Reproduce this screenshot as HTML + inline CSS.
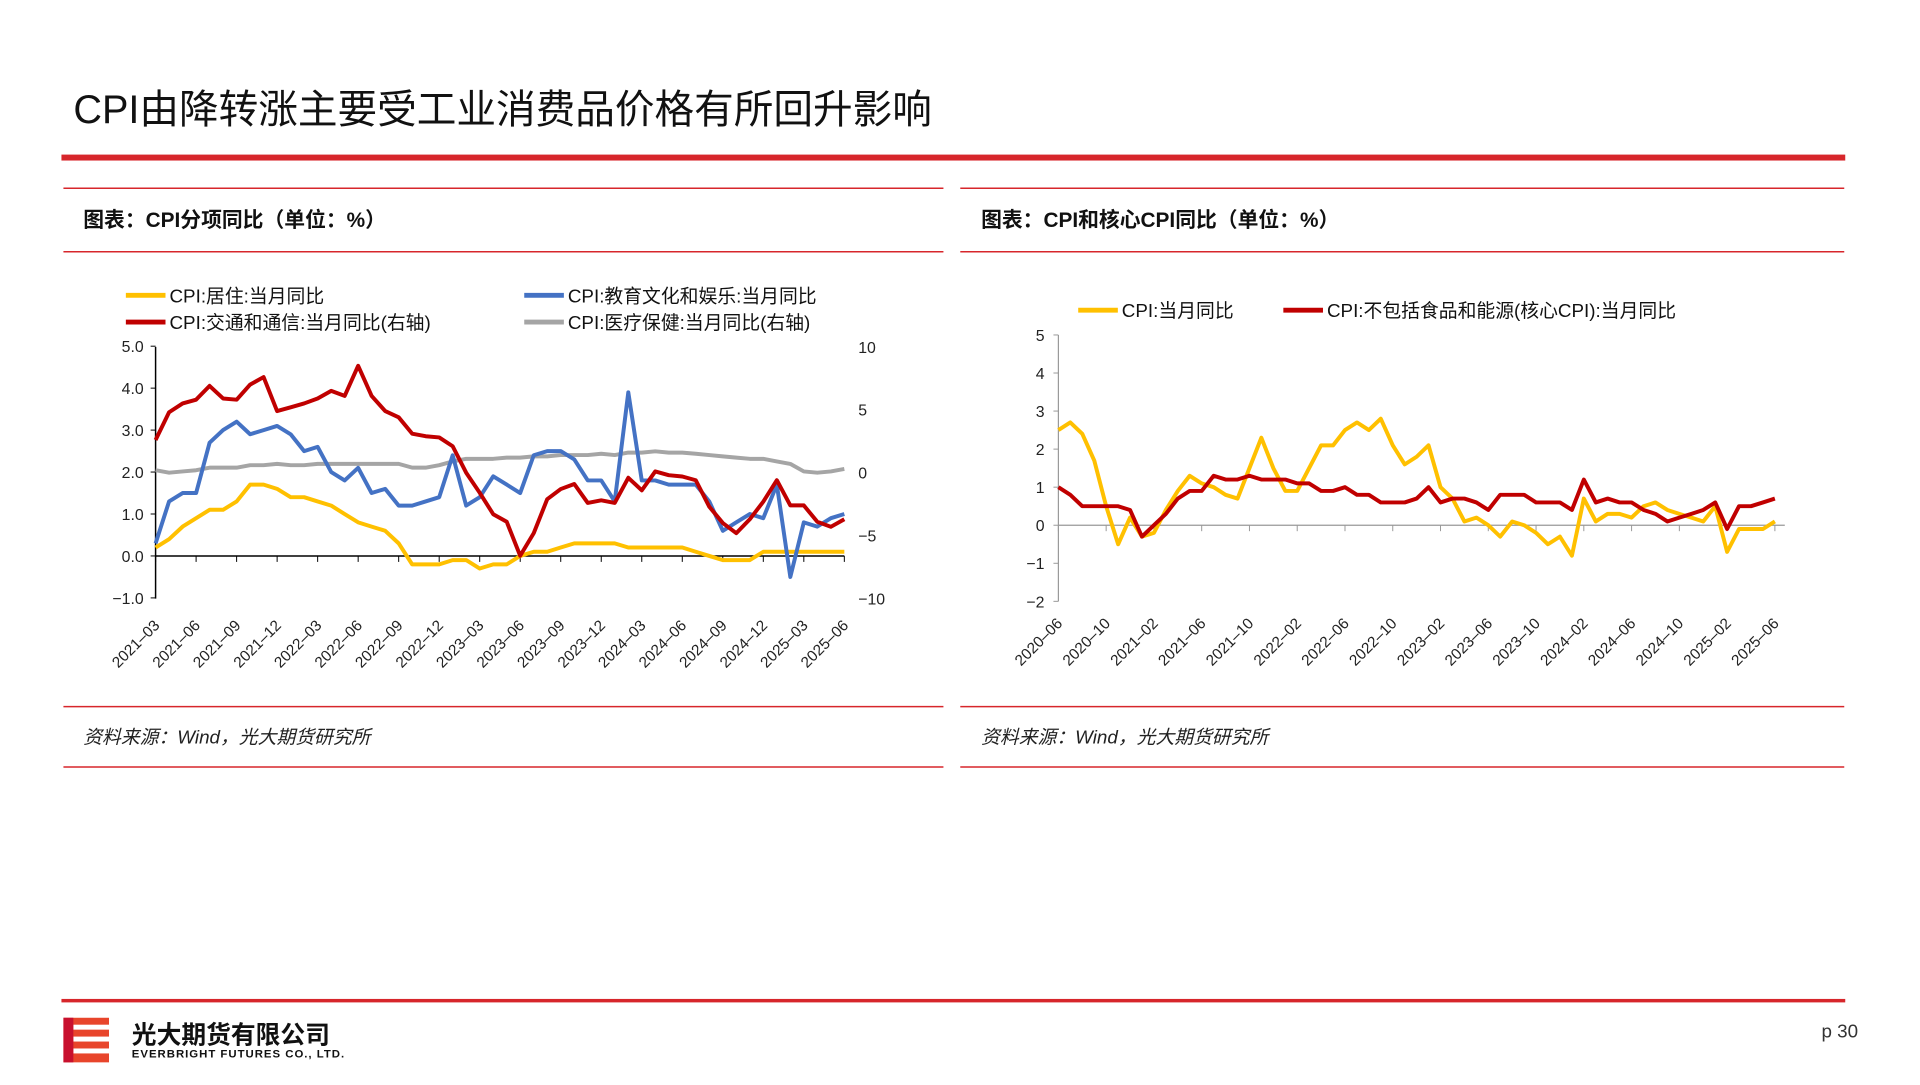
<!DOCTYPE html>
<html><head><meta charset="utf-8">
<style>
html,body{margin:0;padding:0;background:#fff;}
body{width:1920px;height:1080px;overflow:hidden;font-family:"Liberation Sans","Noto Sans CJK SC",sans-serif;}
svg text{font-family:"Liberation Sans","Noto Sans CJK SC",sans-serif;}
</style></head>
<body>
<svg id="page" width="1920" height="1080" viewBox="0 0 1920 1080" xmlns="http://www.w3.org/2000/svg">
<g transform="scale(0.991)">
  <text x="74" y="124" font-size="40" fill="#111">CPI由降转涨主要受工业消费品价格有所回升影响</text>
  <rect x="62" y="156" width="1800" height="6" fill="#D7262B"/>

  <g>
    <line x1="64" y1="190" x2="952" y2="190" stroke="#D7262B" stroke-width="1.5"/>
    <text x="84" y="229" font-size="21" font-weight="bold" fill="#111">图表：CPI分项同比（单位：%）</text>
    <line x1="64" y1="254" x2="952" y2="254" stroke="#D7262B" stroke-width="1.5"/>
    <line x1="64" y1="713" x2="952" y2="713" stroke="#D7262B" stroke-width="1.5"/>
    <text x="84" y="750" font-size="19" font-style="italic" fill="#222">资料来源：Wind，光大期货研究所</text>
    <line x1="64" y1="774" x2="952" y2="774" stroke="#D7262B" stroke-width="1.5"/>
    <g id="leftChart"></g>
  </g>

  <g>
    <line x1="969" y1="190" x2="1861" y2="190" stroke="#D7262B" stroke-width="1.5"/>
    <text x="990" y="229" font-size="21" font-weight="bold" fill="#111">图表：CPI和核心CPI同比（单位：%）</text>
    <line x1="969" y1="254" x2="1861" y2="254" stroke="#D7262B" stroke-width="1.5"/>
    <line x1="969" y1="713" x2="1861" y2="713" stroke="#D7262B" stroke-width="1.5"/>
    <text x="990" y="750" font-size="19" font-style="italic" fill="#222">资料来源：Wind，光大期货研究所</text>
    <line x1="969" y1="774" x2="1861" y2="774" stroke="#D7262B" stroke-width="1.5"/>
    <g id="rightChart"></g>
  </g>

  <rect x="62" y="1008" width="1800" height="3.5" fill="#D7262B"/>
  <g>
    <rect x="64" y="1027" width="46" height="45" fill="#E8452B"/>
    <rect x="74" y="1034" width="36" height="5" fill="#fff"/>
    <rect x="74" y="1046" width="36" height="5" fill="#fff"/>
    <rect x="74" y="1058" width="36" height="5" fill="#fff"/>
    <rect x="64" y="1027" width="10" height="45" fill="#C8102E"/>
  </g>
  <text x="133" y="1053" font-size="25" font-weight="bold" fill="#111">光大期货有限公司</text>
  <text x="133" y="1067" font-size="11.5" font-weight="bold" fill="#111" letter-spacing="1">EVERBRIGHT FUTURES CO., LTD.</text>
  <text x="1838" y="1047" font-size="19" fill="#333">p 30</text>
</g>
</svg>

<script>
// ---- Left chart data (2021-03 .. 2025-06) ----
const leftStart = [2021, 3];
const housing = [0.2,0.4,0.7,0.9,1.1,1.1,1.3,1.7,1.7,1.6, 1.4,1.4,1.3,1.2,1.0,0.8,0.7,0.6,0.3,-0.2,-0.2,-0.2, -0.1,-0.1,-0.3,-0.2,-0.2,0.0,0.1,0.1,0.2,0.3,0.3,0.3, 0.3,0.2,0.2,0.2,0.2,0.2,0.1,0.0,-0.1,-0.1,-0.1,0.1, 0.1,0.1,0.1,0.1,0.1,0.1];
const education = [0.3,1.3,1.5,1.5,2.7,3.0,3.2,2.9,3.0,3.1, 2.9,2.5,2.6,2.0,1.8,2.1,1.5,1.6,1.2,1.2,1.3,1.4, 2.4,1.2,1.4,1.9,1.7,1.5,2.4,2.5,2.5,2.3,1.8,1.8, 1.3,3.9,1.8,1.8,1.7,1.7,1.7,1.3,0.6,0.8,1.0,0.9, 1.7,-0.5,0.8,0.7,0.9,1.0];
const transport = [2.6,4.8,5.5,5.8,6.9,5.9,5.8,7.0,7.6,4.9, 5.2,5.5,5.9,6.5,6.1,8.5,6.1,4.9,4.4,3.1,2.9,2.8, 2.1,0.0,-1.6,-3.3,-3.9,-6.6,-4.8,-2.1,-1.3,-0.9,-2.4,-2.2, -2.4,-0.4,-1.4,0.1,-0.2,-0.3,-0.6,-2.7,-4.0,-4.8,-3.7,-2.3, -0.6,-2.6,-2.6,-3.9,-4.3,-3.7];
const health = [0.2,0.0,0.1,0.2,0.4,0.4,0.4,0.6,0.6,0.7, 0.6,0.6,0.7,0.7,0.7,0.7,0.7,0.7,0.7,0.4,0.4,0.6, 0.9,1.1,1.1,1.1,1.2,1.2,1.3,1.3,1.4,1.4,1.4,1.5, 1.4,1.6,1.6,1.7,1.6,1.6,1.5,1.4,1.3,1.2,1.1,1.1, 0.9,0.7,0.1,0.0,0.1,0.3];
const leftTicks = [-1.0,0.0,1.0,2.0,3.0,4.0,5.0];
const rightTicks = [-10,-5,0,5,10];

// ---- Right chart data (2020-06 .. 2025-06) ----
const rightStart = [2020, 6];
const cpi = [2.5,2.7,2.4,1.7,0.5,-0.5,0.2, -0.3,-0.2,0.4,0.9,1.3,1.1,1.0,0.8,0.7,1.5,2.3,1.5, 0.9,0.9,1.5,2.1,2.1,2.5,2.7,2.5,2.8,2.1,1.6,1.8, 2.1,1.0,0.7,0.1,0.2,0.0,-0.3,0.1,0.0,-0.2,-0.5,-0.3, -0.8,0.7,0.1,0.3,0.3,0.2,0.5,0.6,0.4,0.3,0.2,0.1, 0.5,-0.7,-0.1,-0.1,-0.1,0.1];
const coreCpi = [1.0,0.8,0.5,0.5,0.5,0.5,0.4, -0.3,0.0,0.3,0.7,0.9,0.9,1.3,1.2,1.2,1.3,1.2,1.2, 1.2,1.1,1.1,0.9,0.9,1.0,0.8,0.8,0.6,0.6,0.6,0.7, 1.0,0.6,0.7,0.7,0.6,0.4,0.8,0.8,0.8,0.6,0.6,0.6, 0.4,1.2,0.6,0.7,0.6,0.6,0.4,0.3,0.1,0.2,0.3,0.4, 0.6,-0.1,0.5,0.5,0.6,0.7];
const coreTicks = [-2,-1,0,1,2,3,4,5];

const NS = 'http://www.w3.org/2000/svg';
function mk(parent, tag, attrs){const e=document.createElementNS(NS,tag);for(const k in attrs)e.setAttribute(k,attrs[k]);parent.appendChild(e);return e;}
function monthLabel(start,i){let y=start[0],m=start[1]-1+i;y+=Math.floor(m/12);m=m%12+1;return y+'-'+(m<10?'0':'')+m;}
function pathD(vals,xf,yf){return vals.map((v,i)=>(i?'L':'M')+xf(i).toFixed(1)+','+yf(v).toFixed(1)).join(' ');}

// ===== Left chart =====
(function(){
  const g=document.getElementById('leftChart');
  const x0=157,x1=852,n=housing.length;
  const xL=i=>x0+(x1-x0)*i/(n-1);
  const yL=v=>561-(v-0)*(604-350)/6;
  const yR=v=>477-v*(254/20);
  let a=mk(g,'line',{x1:x0,y1:350,x2:x0,y2:604,stroke:'#000','stroke-width':1.5});
  
  
  leftTicks.forEach(t=>{
    mk(g,'line',{x1:x0-5,y1:yL(t),x2:x0,y2:yL(t),stroke:'#000','stroke-width':1});
    const tx=mk(g,'text',{x:x0-12,y:yL(t)+6,'font-size':16,'text-anchor':'end',fill:'#222'});
    tx.textContent=t.toFixed(1).replace('-','−');
    
    
  });
  rightTicks.forEach(t=>{
    const tx=mk(g,'text',{x:866,y:yR(t)+6,'font-size':16,'text-anchor':'start',fill:'#222'});
    tx.textContent=String(t).replace('-','−');
    
    
  });
  const ax=mk(g,'line',{x1:x0,y1:yL(0),x2:x1,y2:yL(0),stroke:'#000','stroke-width':1.5});
  
  
  for(let i=0;i<n;i+=3){
    mk(g,'line',{x1:xL(i),y1:yL(0),x2:xL(i),y2:yL(0)+6,stroke:'#000','stroke-width':1});
    const tx=mk(g,'text',{x:0,y:0,'font-size':15.5,'text-anchor':'end',fill:'#222',transform:`translate(${xL(i)+5},${632}) rotate(-45)`});
    tx.textContent=monthLabel(leftStart,i).replace('-','–');
    
    
  }
  const series=[[health,yR,'#A5A5A5','health-line'],[housing,yL,'#FFC000','housing-line'],[education,yL,'#4472C4','education-line'],[transport,yR,'#C00000','transport-line']];
  series.forEach(s=>{
    const p=mk(g,'path',{d:pathD(s[0],xL,s[1]),fill:'none',stroke:s[2],'stroke-width':4,'stroke-linejoin':'round'});
    
    
  });
  const leg=[[127,298,'#FFC000','CPI:居住:当月同比'],[529,298,'#4472C4','CPI:教育文化和娱乐:当月同比'],[127,325,'#C00000','CPI:交通和通信:当月同比(右轴)'],[529,325,'#A5A5A5','CPI:医疗保健:当月同比(右轴)']];
  leg.forEach(l=>{
    const lg=mk(g,'g',{});
    
    
    mk(lg,'line',{x1:l[0],y1:l[1],x2:l[0]+40,y2:l[1],stroke:l[2],'stroke-width':5});
    const t=mk(lg,'text',{x:l[0]+44,y:l[1]+7,'font-size':19,fill:'#111'});t.textContent=l[3];
  });
})();

// ===== Right chart =====
(function(){
  const g=document.getElementById('rightChart');
  const x0=1068,x1=1791,n=cpi.length;
  const xf=i=>x0+(x1-x0)*i/(n-1);
  const yf=v=>530-v*38.4;
  const a=mk(g,'line',{x1:x0,y1:yf(5),x2:x0,y2:yf(-2),stroke:'#999','stroke-width':1.2});
  
  
  coreTicks.forEach(t=>{
    mk(g,'line',{x1:x0-5,y1:yf(t),x2:x0,y2:yf(t),stroke:'#999','stroke-width':1});
    const tx=mk(g,'text',{x:x0-14,y:yf(t)+6,'font-size':16,'text-anchor':'end',fill:'#222'});
    tx.textContent=String(t).replace('-','−');
    
    
  });
  const ax=mk(g,'line',{x1:x0,y1:yf(0),x2:x1+10,y2:yf(0),stroke:'#999','stroke-width':1.2});
  
  
  for(let i=0;i<n;i+=4){
    mk(g,'line',{x1:xf(i),y1:yf(0),x2:xf(i),y2:yf(0)+6,stroke:'#999','stroke-width':1});
    const tx=mk(g,'text',{x:0,y:0,'font-size':15.5,'text-anchor':'end',fill:'#222',transform:`translate(${xf(i)+5},${630}) rotate(-45)`});
    tx.textContent=monthLabel(rightStart,i).replace('-','–');
    
    
  }
  const p1=mk(g,'path',{d:pathD(cpi,xf,yf),fill:'none',stroke:'#FFC000','stroke-width':4,'stroke-linejoin':'round'});
  
  
  const p2=mk(g,'path',{d:pathD(coreCpi,xf,yf),fill:'none',stroke:'#C00000','stroke-width':4,'stroke-linejoin':'round'});
  
  
  const leg=[[1088,313,'#FFC000','CPI:当月同比'],[1295,313,'#C00000','CPI:不包括食品和能源(核心CPI):当月同比']];
  leg.forEach(l=>{
    const lg=mk(g,'g',{});
    
    
    mk(lg,'line',{x1:l[0],y1:l[1],x2:l[0]+40,y2:l[1],stroke:l[2],'stroke-width':5});
    const t=mk(lg,'text',{x:l[0]+44,y:l[1]+7,'font-size':19,fill:'#111'});t.textContent=l[3];
  });
})();
</script>
</body></html>
